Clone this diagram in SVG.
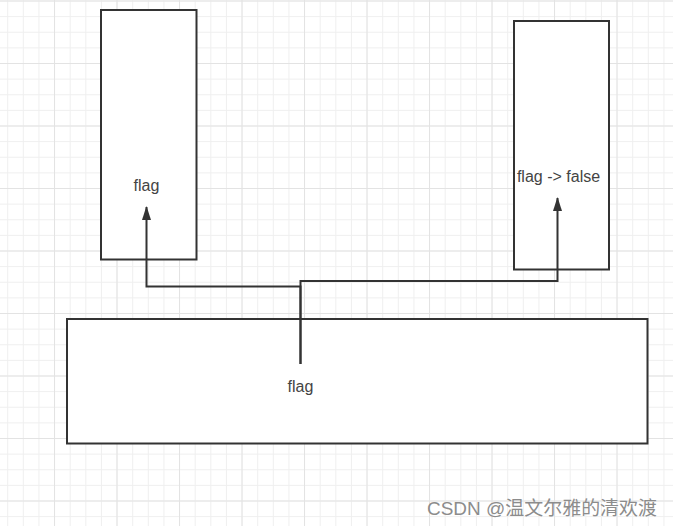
<svg xmlns="http://www.w3.org/2000/svg" width="673" height="526" viewBox="0 0 673 526">
<defs>
<pattern id="minor" x="7.2" y="0.5" width="15.625" height="15.625" patternUnits="userSpaceOnUse">
<path d="M0 0.5 H15.625 M0.5 0 V15.625" fill="none" stroke="#efefef" stroke-width="1"/>
</pattern>
<pattern id="major" x="54" y="0.5" width="62.5" height="62.5" patternUnits="userSpaceOnUse">
<path d="M0 0.5 H62.5 M0.5 0 V62.5" fill="none" stroke="#e3e3e3" stroke-width="1"/>
</pattern>
<marker id="arr" viewBox="0 0 14 10" refX="13" refY="5" markerWidth="14" markerHeight="10" markerUnits="userSpaceOnUse" orient="auto">
<path d="M0 0.5 L14 5 L0 9.5 Z" fill="#333"/>
</marker>
<style>
.box{fill:#fff;stroke:#333;stroke-width:2}
.lbl{font-family:"Liberation Sans","Microsoft YaHei",Arial,sans-serif;font-size:16px;fill:#444;text-anchor:middle}
.conn{fill:none;stroke:#333;stroke-width:2}
</style>
</defs>
<rect width="673" height="526" fill="#fff"/>
<rect width="673" height="526" fill="url(#minor)"/>
<rect width="673" height="526" fill="url(#major)"/>
<g id="node-left">
<rect class="box" x="101" y="10" width="95.5" height="249.5"/>
<text class="lbl" x="146.5" y="190.5">flag</text>
</g>
<g id="node-right">
<rect class="box" x="514" y="21" width="95" height="248.5"/>
<text class="lbl" x="558.5" y="182">flag -&gt; false</text>
</g>
<g id="node-bottom">
<rect class="box" x="67" y="319" width="580.5" height="124.5"/>
<text class="lbl" x="300.5" y="392">flag</text>
</g>
<g id="connectors">
<path class="conn" d="M300.5 364 V286.5 H146.5 V207" marker-end="url(#arr)"/>
<path class="conn" d="M300.5 364 V281 H557.5 V198" marker-end="url(#arr)"/>
</g>
<text x="427" y="515" font-family="Liberation Sans,'Noto Sans CJK SC',sans-serif" font-size="19" fill="#8c8c8c" textLength="230" lengthAdjust="spacingAndGlyphs">CSDN @温文尔雅的清欢渡</text>
</svg>
